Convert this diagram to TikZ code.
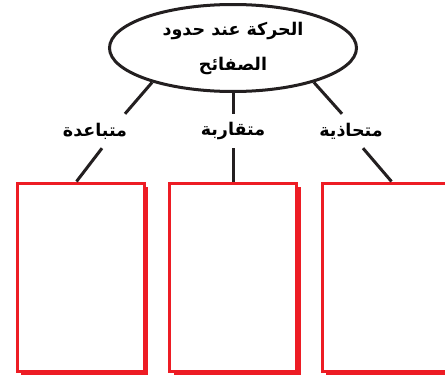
\documentclass[tikz,border=0pt]{standalone}
\usepackage{fontspec}
\usetikzlibrary{shapes.geometric,shadows}
\TeXXeTstate=1
\newfontfamily\arabicfont[Script=Arabic]{DejaVu Sans}
\definecolor{boxred}{HTML}{ED1C24}
\definecolor{linegray}{HTML}{231F20}
\tikzset{
    topic/.style={ellipse, draw=linegray, line width=3pt, minimum width=247pt, minimum height=87pt,
        align=center, inner sep=0pt, font=\arabicfont\bfseries\fontsize{17.5}{35}\selectfont},
    kind/.style={inner sep=0pt, minimum height=34pt, font=\arabicfont\bfseries\fontsize{17.5}{20}\selectfont},
    answerbox/.style={draw=boxred, fill=white, line width=3pt, minimum width=127pt, minimum height=188pt,
        drop shadow={shadow xshift=4pt, shadow yshift=-4pt, fill=boxred, opacity=1}},
    link/.style={draw=linegray, line width=3pt}
}
\begin{document}
\begin{tikzpicture}[x=1pt, y=-1pt]
    \useasboundingbox (0,0) rectangle (445,380);
    \clip (0,0) rectangle (445,380);
    \fill[white] (0,0) rectangle (445,380);
    \node[topic] (top) at (233,48) {\beginR الحركة عند حدود\endR\\\beginR الصفائح\endR};
    \node[kind] (diverge) at (95,131) {\beginR متباعدة\endR};
    \node[kind] (converge) at (233,131) {\beginR متقاربة\endR};
    \node[kind] (transform) at (351,131) {\beginR متحاذية\endR};
    \node[answerbox] (box1) at (80.5,277) {};
    \node[answerbox] (box2) at (233,277) {};
    \node[answerbox] (box3) at (385.5,277) {};
    \draw[link] (top.203) -- ([xshift=30pt]diverge.north);
    \draw[link] (top.south) -- (converge.north);
    \draw[link] (top.337) -- ([xshift=-9pt]transform.north);
    \draw[link] ([xshift=7pt]diverge.south) -- ([xshift=-4pt]box1.north);
    \draw[link] (converge.south) -- (box2.north);
    \draw[link] ([xshift=12pt]transform.south) -- ([xshift=6pt]box3.north);
\end{tikzpicture}
\end{document}
